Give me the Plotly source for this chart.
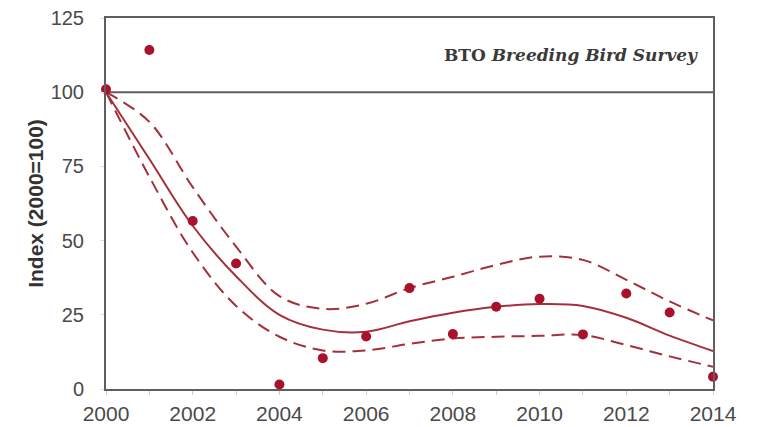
import plotly.graph_objects as go

# Annual index values (2000 = 100)
years = list(range(2000, 2015))
index_values = [101, 114.2, 56.6, 42.3, 1.5, 10.4, 17.7, 34.0, 18.5, 27.7, 30.4, 18.4, 32.2, 25.8, 4.1]

# Smoothed trend with its lower and upper confidence limits
trend = [100, 77.5, 55, 38, 25, 20, 19.3, 22.8, 25.7, 27.7, 28.6, 28.0, 24.0, 18.0, 12.8]
upper_limit = [100, 90, 68, 48, 31.3, 27, 28.7, 34, 37.8, 41.8, 44.6, 43.5, 36.8, 29.5, 23.1]
lower_limit = [100, 71.5, 46, 28, 17.6, 13, 13, 15.2, 17, 17.6, 17.9, 18.2, 14.8, 11, 7.5]

x_ticks = [2000, 2002, 2004, 2006, 2008, 2010, 2012, 2014]
y_ticks = [0, 25, 50, 75, 100, 125]

line_colour = "#a3303c"
marker_colour = "#a8122c"
axis_colour = "#5f5f5f"
text_colour = "#4a4a4a"

fig = go.Figure()

for series, dash in ((upper_limit, "13px,7px"), (lower_limit, "13px,7px"), (trend, "solid")):
    fig.add_trace(go.Scatter(
        x=years, y=series, mode="lines",
        line=dict(color=line_colour, width=2, dash=dash, shape="spline", smoothing=1.0),
        hoverinfo="skip", showlegend=False, cliponaxis=False,
    ))

fig.add_trace(go.Scatter(
    x=years, y=index_values, mode="markers",
    marker=dict(color=marker_colour, size=10),
    showlegend=False, cliponaxis=False,
))

# Reference line at the base-year level
fig.add_shape(type="line", xref="x", yref="y", x0=2000, x1=2014, y0=100, y1=100,
              line=dict(color=axis_colour, width=2), layer="below")

fig.add_annotation(
    xref="paper", yref="y", x=0.979, y=112.5, xanchor="right", yanchor="middle",
    text="<b>BTO </b><b><i>Breeding Bird Survey</i></b>",
    showarrow=False,
    font=dict(family="DejaVu Serif", size=17, color="#3a3a3a"),
)

fig.update_layout(
    width=764, height=427,
    margin=dict(l=106, r=51, t=18, b=38),
    paper_bgcolor="white", plot_bgcolor="white",
    font=dict(family="Liberation Sans, Arial, sans-serif", color=text_colour),
)

fig.update_xaxes(
    range=[2000, 2014], tickvals=x_ticks, ticktext=[str(v) for v in x_ticks],
    showgrid=False, zeroline=False, automargin=False,
    showline=True, linecolor=axis_colour, linewidth=2, mirror=True,
    ticks="outside", ticklen=4, tickcolor="#cccccc", tickwidth=1,
    minor=dict(dtick=1, ticks="outside", ticklen=4, tickcolor="#cccccc"),
    ticklabelstandoff=1,
    tickfont=dict(size=21, color=text_colour),
)

fig.update_yaxes(
    range=[0, 125], tickvals=y_ticks,
    showgrid=False, zeroline=False, automargin=False,
    showline=True, linecolor=axis_colour, linewidth=2, mirror=True,
    ticks="outside", ticklen=4, tickcolor="#dddddd",
    ticklabelstandoff=12,
    tickfont=dict(size=20, color=text_colour),
    title=dict(text="<b>Index (2000=100)</b>", font=dict(size=21, color="#333333"), standoff=1),
)

fig.write_html("out.html")
